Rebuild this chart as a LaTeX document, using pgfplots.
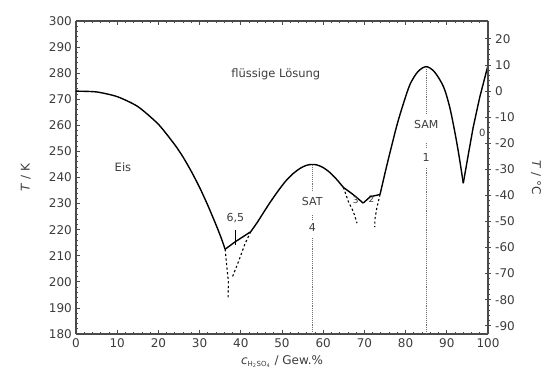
\documentclass[border=0pt]{standalone}
\usepackage{fontspec}
\setmainfont{DejaVu Sans}
\usepackage{pgfplots}
\pgfplotsset{compat=1.18}
\definecolor{txt}{HTML}{3C3C3C}
\definecolor{ax}{HTML}{4A4A4A}
\definecolor{dot}{HTML}{707070}
\begin{document}
\fontsize{12}{14}\selectfont
\begin{tikzpicture}
\useasboundingbox (-76pt,-45pt) rectangle (471pt,334pt);
\begin{axis}[
  at={(0,0)}, anchor=south west,
  scale only axis, width=412pt, height=313pt,
  xmin=0, xmax=100, ymin=180, ymax=300,
  xtick={0,10,...,100}, ytick={180,190,...,300},
  minor x tick num=4, minor y tick num=4,
  tick align=inside,
  major tick length=4pt, minor tick length=2pt,
  axis y line*=left,
  axis line style={ax, line width=1.2pt},
  every tick/.style={ax, line width=0.8pt},
  tick label style={txt, font=\fontsize{12}{14}\selectfont},
  /pgf/number format/assume math mode=true,
  label style={txt, font=\fontsize{12}{14}\selectfont},
  xlabel={\textit{c}\textsubscript{\scriptsize H\textsubscript{2}SO\textsubscript{4}} / Gew.\%},
  ylabel={\textit{T} / K},
  ylabel style={yshift=10pt},
  clip=false,
]
% top axis line
\draw[ax, line width=1.2pt] (rel axis cs:0,1) -- (rel axis cs:1,1);
% ice
\addplot[black, line width=1.4pt, smooth, tension=0.4] coordinates {
 (0,273.1) (5,272.8) (10,271) (15,267.2) (20,260.4) (24,252.5) (26,247.8) (28,242.3) (30,236.2) (32,229.3) (34,221.8) (35.2,217) (36.2,212.5)};
% hydrate 6.5 segment
\addplot[black, line width=1.4pt] coordinates {(36.2,212.5) (38.6,215.3) (42.4,219.2)};
\addplot[black, line width=1.0pt] coordinates {(38.6,214.3) (38.6,220)};
% SAT
\addplot[black, line width=1.4pt, smooth, tension=0.5] coordinates {
 (42.4,219.2) (44,222.8) (46.3,228.5) (48,232.5) (49.5,235.8) (51,238.8) (52.7,241.5) (54.5,243.6) (56,244.7) (57.3,245) (58.5,244.8) (60,243.8) (61.7,241.8) (63.3,239.2) (64.9,236.2)};
% trihydrate / dihydrate
\addplot[black, line width=1.4pt, smooth, tension=0.5] coordinates {(64.9,236.2) (67.3,233.4) (69.7,230.2)};
\addplot[black, line width=1.4pt] coordinates {(69.7,230.2) (71.4,232.6) (73.8,233.5)};
% SAM and beyond
\addplot[black, line width=1.4pt, smooth, tension=0.5] coordinates {
 (73.8,233.5) (75.5,245) (77.8,259.5) (79.5,268.5) (81.1,275.8) (83,280.6) (85,282.5) (87,280.5) (89.2,274.8) (90.7,267) (92,257) (93,248) (94,237.8)};
\addplot[black, line width=1.4pt] coordinates {(94,237.8) (95.3,249.5) (96.4,259.2) (98,270.8) (100,283)};
% metastable (dashed)
\addplot[black, line width=1.1pt, dash pattern=on 2.2pt off 2.4pt] coordinates {(36.2,212.5) (36.6,206) (37,200) (36.9,193.5)};
\addplot[black, line width=1.1pt, dash pattern=on 2.2pt off 2.4pt] coordinates {(42.4,219.2) (41,214.5) (39.5,208) (38,202)};
\addplot[black, line width=1.1pt, dash pattern=on 2.2pt off 2.4pt] coordinates {(64.9,236.2) (66.1,230.8) (67.3,227) (68.2,222.5)};
\addplot[black, line width=1.1pt, dash pattern=on 2.2pt off 2.4pt] coordinates {(73.8,233.5) (73,228.2) (72.6,224.5) (72.5,221)};
% dotted composition lines
\addplot[dot, line width=0.9pt, densely dotted] coordinates {(57.35,180) (57.35,216.8)};
\addplot[dot, line width=0.9pt, densely dotted] coordinates {(57.35,223.8) (57.35,225.5)};
\addplot[dot, line width=0.9pt, densely dotted] coordinates {(57.35,234.8) (57.35,245)};
\addplot[dot, line width=0.9pt, densely dotted] coordinates {(85,180) (85,243.5)};
\addplot[dot, line width=0.9pt, densely dotted] coordinates {(85,251.5) (85,253.5)};
\addplot[dot, line width=0.9pt, densely dotted] coordinates {(85,264.5) (85,282.5)};
% labels
\node[txt, font=\fontsize{11.5}{13}\selectfont] at (axis cs:48.5,279.5) {flüssige Lösung};
\node[txt, font=\fontsize{11.5}{13}\selectfont] at (axis cs:11.4,244) {Eis};
\node[txt, font=\fontsize{11}{13}\selectfont] at (axis cs:57.35,230.8) {SAT};
\node[txt, font=\fontsize{11}{13}\selectfont] at (axis cs:57.35,220.8) {4};
\node[txt, font=\fontsize{11}{13}\selectfont] at (axis cs:85,260.2) {SAM};
\node[txt, font=\fontsize{11}{13}\selectfont] at (axis cs:85,247.6) {1};
\node[txt, font=\fontsize{11}{13}\selectfont] at (axis cs:38.7,224.6) {6,5};
\node[txt, font=\fontsize{9}{11}\selectfont] at (axis cs:67.9,231.3) {3};
\node[txt, font=\fontsize{9}{11}\selectfont] at (axis cs:71.7,231.8) {2};
\node[txt, font=\fontsize{10}{12}\selectfont] at (axis cs:98.6,257) {0};
\end{axis}
\begin{axis}[
  at={(0,0)}, anchor=south west,
  scale only axis, width=412pt, height=313pt,
  xmin=0, xmax=100, ymin=-93.15, ymax=26.85,
  axis x line=none,
  axis y line*=right,
  ytick={-90,-80,...,20},
  minor y tick num=4,
  tick align=center,
  major tick length=6pt, minor tick length=3pt,
  axis line style={ax, line width=1.2pt},
  every tick/.style={ax, line width=0.8pt},
  tick label style={txt, font=\fontsize{12}{14}\selectfont},
  /pgf/number format/assume math mode=true,
  ylabel={\textit{T} / °C},
  ylabel style={txt, font=\fontsize{12}{14}\selectfont, rotate=180, yshift=8pt},
]
\addplot[draw=none] coordinates {(0,0)};
\end{axis}
\end{tikzpicture}
\end{document}
